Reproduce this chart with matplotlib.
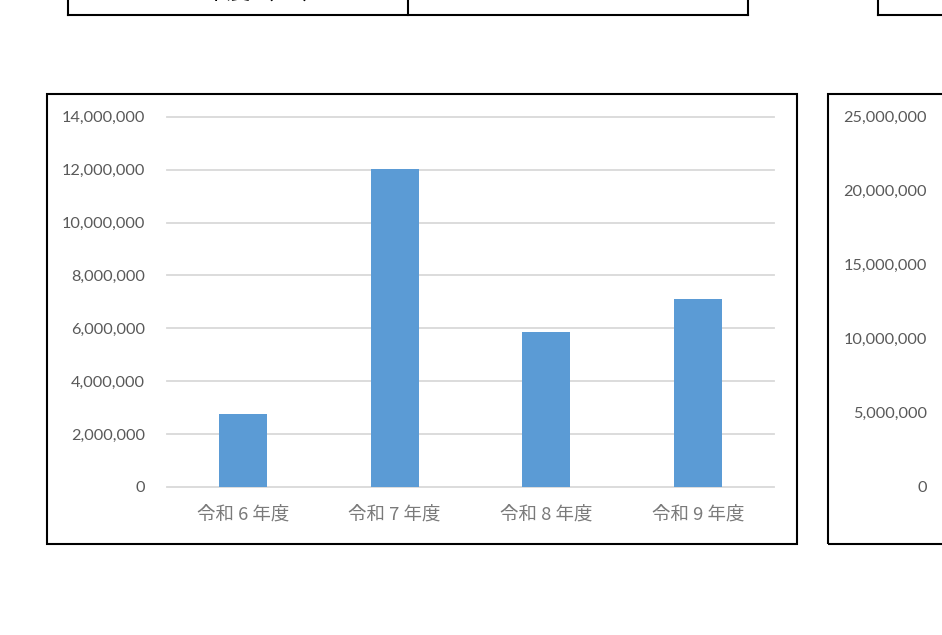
import matplotlib
matplotlib.use('Agg')
import matplotlib.pyplot as plt
from matplotlib.patches import Rectangle
from matplotlib.lines import Line2D
from matplotlib.ticker import FuncFormatter

# データ
years = ['令和 6 年度', '令和 7 年度', '令和 8 年度', '令和 9 年度']
amounts = [2760000, 12010000, 5850000, 7110000]
yticks_main = [0, 2000000, 4000000, 6000000, 8000000, 10000000, 12000000, 14000000]
yticks_right = [0, 5000000, 10000000, 15000000, 20000000, 25000000]
table_row = ['2027年度（R9）', '770']

W, H = 942, 635
fig = plt.figure(figsize=(W / 100, H / 100), dpi=100)
fig.patch.set_facecolor('white')

def fx(px):
    return px / W

def fy(py):
    return 1 - py / H

num_font = ['Lato', 'DejaVu Sans']
jp_font = ['Noto Sans CJK JP', 'DejaVu Sans']
grey = '#595959'
fmt = FuncFormatter(lambda v, p: '{:,.0f}'.format(v))

# 上の表（上端で切れている部分）
lw_box = 1.5
fig.add_artist(Line2D([fx(68), fx(748)], [fy(15), fy(15)], color='black', lw=lw_box))
for x in [68, 408, 748]:
    fig.add_artist(Line2D([fx(x), fx(x)], [fy(15), 1.02], color='black', lw=lw_box))
fig.add_artist(Line2D([fx(878), 1.02], [fy(15), fy(15)], color='black', lw=lw_box))
fig.add_artist(Line2D([fx(878), fx(878)], [fy(15), 1.02], color='black', lw=lw_box))
fig.text(fx(238), fy(4), table_row[0], ha='center', va='bottom', fontsize=17,
         family=jp_font)
fig.text(fx(578), fy(4), table_row[1], ha='center', va='bottom', fontsize=17,
         family=jp_font)

# グラフの枠
fig.add_artist(Rectangle((fx(47), fy(544)), fx(797) - fx(47), fy(94) - fy(544),
                         transform=fig.transFigure, fill=False, ec='black', lw=lw_box))
fig.add_artist(Rectangle((fx(828), fy(544)), 1.1 - fx(828), fy(94) - fy(544),
                         transform=fig.transFigure, fill=False, ec='black', lw=lw_box))

# メインの棒グラフ
ax = fig.add_axes([fx(167), fy(487), fx(774) - fx(167), fy(116.7) - fy(487)])
ax.bar(range(len(years)), amounts, width=0.315, color='#5B9BD5', zorder=2)
ax.set_xlim(-0.5, len(years) - 0.5)
ax.set_ylim(0, 14000000)
ax.set_yticks(yticks_main)
ax.yaxis.set_major_formatter(fmt)
ax.set_xticks(range(len(years)))
ax.set_xticklabels(years, family=jp_font, fontsize=13.3, color='#7a7a7a')
ax.tick_params(axis='x', length=0, pad=13)
ax.tick_params(axis='y', length=0, pad=16, labelsize=11.7, labelcolor=grey)
for lab in ax.get_yticklabels():
    lab.set_family(num_font)
ax.grid(axis='y', color='#D9D9D9', lw=1.3, zorder=0)
for gl in ax.yaxis.get_gridlines():
    gl.set_clip_on(False)
ax.set_axisbelow(True)
for s in ax.spines.values():
    s.set_visible(False)
ax.set_facecolor('none')

# 右側のグラフ（軸ラベルのみ見える）
ax2 = fig.add_axes([fx(949), fy(486.7), 0.5, fy(116.7) - fy(486.7)])
ax2.set_ylim(0, 25000000)
ax2.set_yticks(yticks_right)
ax2.yaxis.set_major_formatter(fmt)
ax2.set_xticks([])
ax2.tick_params(axis='y', length=0, pad=16, labelsize=11.7, labelcolor=grey)
for lab in ax2.get_yticklabels():
    lab.set_family(num_font)
for s in ax2.spines.values():
    s.set_visible(False)
ax2.set_facecolor('none')

fig.savefig('out.png', dpi=100)
